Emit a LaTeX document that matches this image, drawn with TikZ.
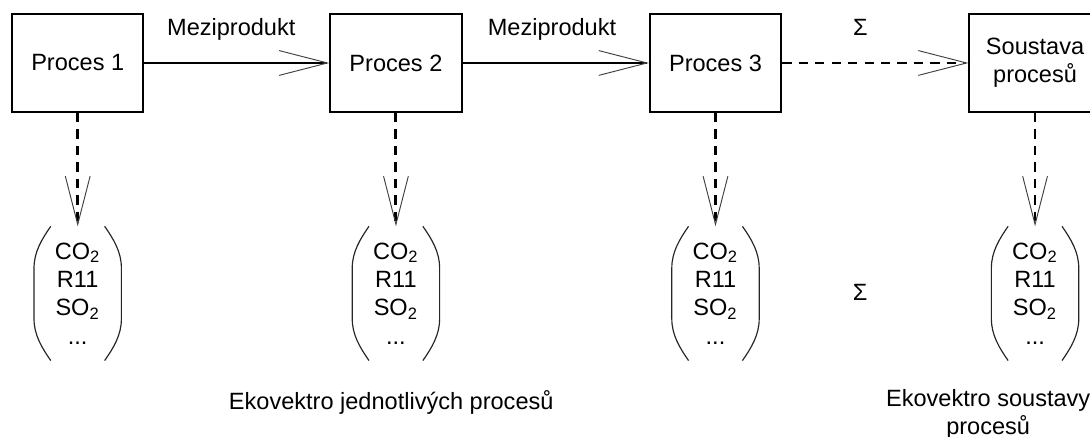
\documentclass[tikz,border=0pt]{standalone}
\usepackage{fontspec}
\setmainfont{Liberation Sans}
\usetikzlibrary{arrows.meta, positioning}

\begin{document}
\begin{tikzpicture}[
                proces/.style={rectangle, draw, thick, minimum width=1.96cm, minimum height=1.46cm, align=center},
                vektor/.style={inner sep=0pt, minimum width=0.79cm, minimum height=1.99cm, align=center},
                zavorka/.style={line width=0.5pt, black!85},
                hrot/.tip={Straight Barb[length=0.72cm, width=0.37cm, line width=0.4pt, black!75]},
                tok/.style={thick, -{hrot}},
                emise/.style={line width=1.3pt, dash pattern=on 4pt off 3pt, -{hrot}}]
                \clip (0,0) rectangle (16.27,-6.52);

                \node[proces] (p1) at (1.16,-0.94) {Proces 1};
                \node[proces] (p2) at (5.91,-0.94) {Proces 2};
                \node[proces] (p3) at (10.68,-0.94) {Proces 3};
                \node[proces] (ps) at (15.45,-0.94) {Soustava\\procesů};

                % ekovektory
                \node[vektor] (v1) at (1.16,-4.38) {CO\textsubscript{2}\\R11\\SO\textsubscript{2}\\...};
                \node[vektor] (v2) at (5.91,-4.38) {CO\textsubscript{2}\\R11\\SO\textsubscript{2}\\...};
                \node[vektor] (v3) at (10.68,-4.38) {CO\textsubscript{2}\\R11\\SO\textsubscript{2}\\...};
                \node[vektor] (vs) at (15.45,-4.38) {CO\textsubscript{2}\\R11\\SO\textsubscript{2}\\...};
                \node (suma) at (12.84,-4.36) {Σ};

                % zavorky kolem vektoru
                \foreach \v in {v1,v2,v3,vs} {
                    \draw[zavorka] (\v.north west) to[out=-125, in=90, looseness=0.9] ([shift={(-0.25,-0.62)}]\v.north west)
                        -- ([shift={(-0.25,0.62)}]\v.south west) to[out=-90, in=125, looseness=0.9] (\v.south west);
                    \draw[zavorka] (\v.north east) to[out=-55, in=90, looseness=0.9] ([shift={(0.25,-0.62)}]\v.north east)
                        -- ([shift={(0.25,0.62)}]\v.south east) to[out=-90, in=55, looseness=0.9] (\v.south east);
                }

                \draw[tok] (p1) -- node[pos=0.47, above=6pt] {Meziprodukt} (p2);
                \draw[tok] (p2) -- node[pos=0.48, above=6pt] {Meziprodukt} (p3);
                \draw[emise, thick] (p3) -- node[pos=0.42, above=8pt] {Σ} (ps);

                \draw[emise] (p1) -- (v1);
                \draw[emise] (p2) -- (v2);
                \draw[emise] (p3) -- (v3);
                \draw[emise, line width=0.8pt] (ps) -- (vs);

                \node[align=center] (popis1) at (5.84,-6.0) {Ekovektro jednotlivých procesů};
                \node[align=center] (popis2) at (14.75,-6.19) {Ekovektro soustavy\\procesů};
            \end{tikzpicture}
\end{document}
